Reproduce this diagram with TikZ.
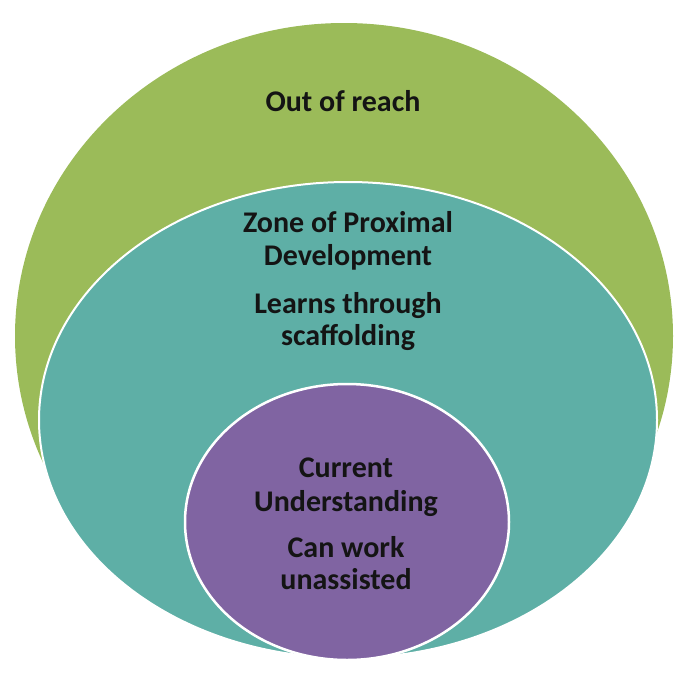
\documentclass[tikz,border=0pt]{standalone}
\usepackage{fontspec}
\setmainfont{Carlito}
\definecolor{zgreen}{HTML}{9BBB59}
\definecolor{zteal}{HTML}{5EAFA6}
\definecolor{zpurple}{HTML}{8064A2}
\definecolor{ztext}{HTML}{141414}
\begin{document}
\begin{tikzpicture}[x=1pt,y=-1pt,
  lbl/.style={anchor=base,inner sep=0pt,font=\fontsize{30}{33}\selectfont\bfseries,text=ztext}]
\useasboundingbox (0,0) rectangle (683,683);
\fill[zgreen] (344,336) ellipse [x radius=329, y radius=313];
\filldraw[fill=zteal,draw=white,line width=2pt] (348,420) ellipse [x radius=309, y radius=238];
\filldraw[fill=zpurple,draw=white,line width=2.5pt] (347,522) ellipse [x radius=162, y radius=138];
\node[lbl] (out) at (343,111) {Out of reach};
\node[lbl] (zone1) at (348,232) {Zone of Proximal};
\node[lbl] (zone2) at (348,265) {Development};
\node[lbl] (zone3) at (348,313) {Learns through};
\node[lbl] (zone4) at (348,345) {scaffolding};
\node[lbl] (cur1) at (346,477) {Current};
\node[lbl] (cur2) at (346,511) {Understanding};
\node[lbl] (cur3) at (346,557) {Can work};
\node[lbl] (cur4) at (346,589) {unassisted};
\end{tikzpicture}
\end{document}
